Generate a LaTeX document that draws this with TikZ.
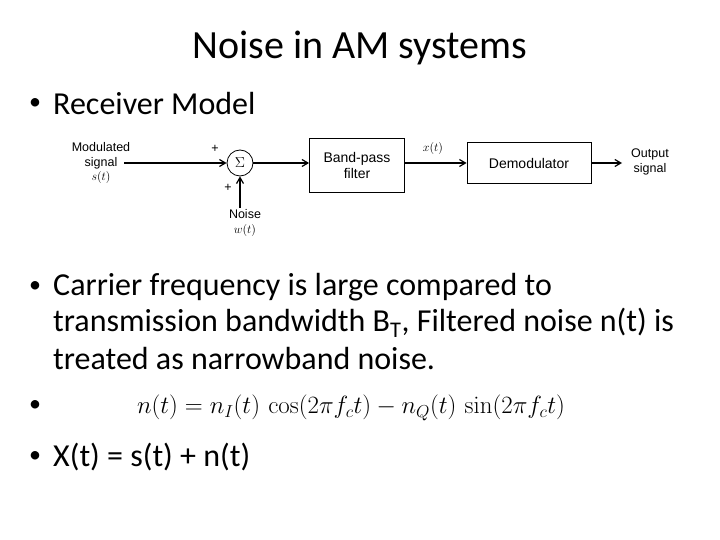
\documentclass[tikz,border=0pt]{standalone}
\usepackage[no-math]{fontspec}
\setmainfont{Carlito}
\newfontfamily\dia{Liberation Sans}
\usetikzlibrary{arrows.meta}
\begin{document}
\begin{tikzpicture}[x=1pt,y=-1pt,
  txt/.style={anchor=west,font=\fontsize{32}{36}\selectfont,inner sep=0},
  bul/.style={font=\fontsize{24}{28}\selectfont,inner sep=0},
  lbl/.style={font=\dia\fontsize{12.5}{14.5}\selectfont,align=center,inner sep=0},
  blk/.style={draw,thick,font=\dia\fontsize{14}{16}\selectfont,align=center},
  sig/.style={very thick,-{Straight Barb[length=6pt,width=7pt]}}]
\useasboundingbox (0,0) rectangle (720,540);
\node (title) at (360,48) {\fontsize{40}{44}\selectfont Noise in AM systems};
\node[bul] (d1) at (35,104) {•};
\node[txt] (b1) at (53,104) {Receiver Model};
\node[lbl] (in) at (101,163) {Modulated\\signal\\$s(t)$};
\node[draw,thick,circle,minimum size=26pt,inner sep=0] (sum) at (240,163) {\Large$\Sigma$};
\node[lbl] (p1) at (215,149) {+};
\node[lbl] (p2) at (228,188) {+};
\node[lbl] (noise) at (245,223) {Noise\\$w(t)$};
\node[blk,minimum width=95pt,minimum height=54pt] (bpf) at (357,165) {Band-pass\\filter};
\node[blk,minimum width=124pt,minimum height=41pt] (dem) at (529,163) {Demodulator};
\node[lbl] (xt) at (433,149) {$x(t)$};
\node[lbl] (out) at (650,162) {Output\\signal};
\coordinate (s0) at (124,163);
\coordinate (n0) at (240,208);
\coordinate (o1) at (622,163);
\draw[sig] (s0) -- (sum);
\draw[sig] (n0) -- (sum);
\draw[sig] (sum) -- (sum -| bpf.west);
\draw[sig] (bpf.east |- dem) -- (dem.west);
\draw[sig] (dem) -- (o1);
\node[bul] (d2) at (35,287) {•};
\node[txt] (b2) at (53,287) {Carrier frequency is large compared to};
\node[txt] (b2b) at (53,323) {transmission bandwidth B\textsubscript{T}, Filtered noise n(t) is};
\node[txt] (b2c) at (53,359) {treated as narrowband noise.};
\node[bul] (d3) at (35,406) {•};
\node (eq) at (351,408) {\fontsize{24}{28}\selectfont $n(t)=n_I(t)\,\cos(2\pi f_c t)-n_Q(t)\,\sin(2\pi f_c t)$};
\node[bul] (d4) at (35,457) {•};
\node[txt] (b4) at (53,457) {X(t) = s(t) + n(t)};
\end{tikzpicture}
\end{document}
